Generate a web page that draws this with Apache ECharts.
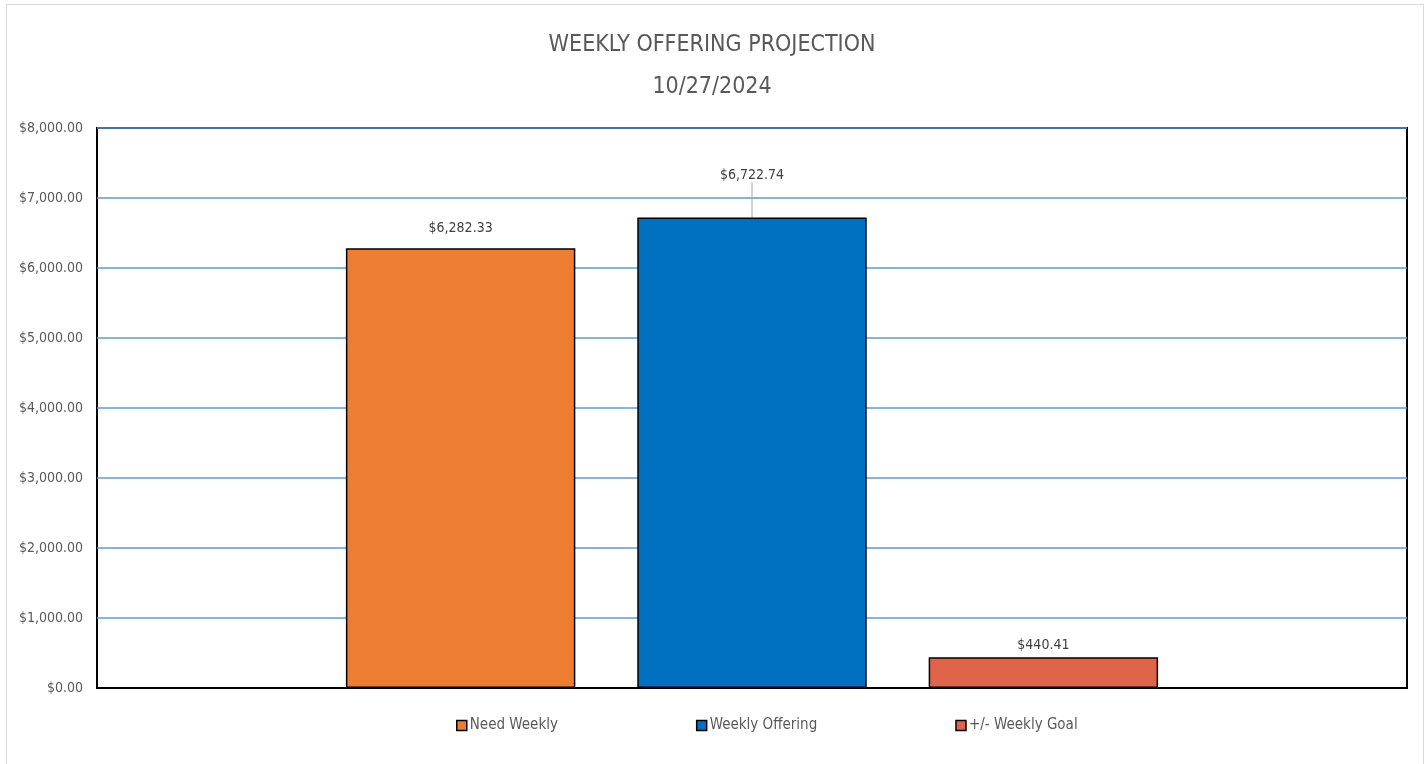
<!DOCTYPE html>
<html>
<head>
<meta charset="utf-8">
<title>Weekly Offering Projection</title>
<script src="https://cdn.jsdelivr.net/npm/echarts@6/dist/echarts.min.js"></script>
<style>
  html, body { margin: 0; padding: 0; background: #fff; }
  .frame { position: absolute; left: 6px; top: 4px; width: 1418px; height: 780px; border: 1px solid #d9d9d9; box-sizing: border-box; }
  #chart { position: absolute; left: 0; top: 0; width: 1424px; height: 764px; }
</style>
</head>
<body>
<div class="frame"></div>
<div id="chart"></div>
<script>
const seriesNames = ['Need Weekly', 'Weekly Offering', '+/- Weekly Goal']
const seriesValues = [6282.33, 6722.74, 440.41]
const seriesColors = ['#ED7D31', '#0070C0', '#DF644A']
const yTicks = [0, 1000, 2000, 3000, 4000, 5000, 6000, 7000, 8000]

const font = '"DejaVu Sans Condensed", "Liberation Sans", sans-serif'
const money = (v) => '$' + v.toLocaleString('en-US', { minimumFractionDigits: 2, maximumFractionDigits: 2 })

const chart = echarts.init(document.getElementById('chart'))

const series = seriesNames.map((name, i) => {
    const s = {
        name,
        type: 'bar',
        data: [seriesValues[i]],
        barGap: '27%',
        barCategoryGap: '38%',
        itemStyle: { color: seriesColors[i], borderColor: '#000', borderWidth: 1.5 },
        label: {
            show: true,
            position: 'top',
            distance: 13,
            formatter: (p) => money(p.value),
            color: '#404040',
            fontFamily: font,
            fontSize: 14,
        },
    }
    if (i === 1) {
        s.labelLayout = { dy: -22 }
        s.labelLine = { show: true, lineStyle: { color: '#a6a6a6', width: 1 } }
    }
    if (i === 2) s.label.distance = 5
    return s
})

const option = {
    animation: false,
    title: {
        text: 'WEEKLY OFFERING PROJECTION\n10/27/2024',
        left: 'center',
        top: 19,
        textStyle: { color: '#595959', fontFamily: font, fontSize: 23, fontWeight: 'normal', lineHeight: 42 },
    },
    legend: {
        bottom: 26,
        left: 451,
        itemWidth: 10,
        itemHeight: 10,
        itemGap: 138,
        icon: 'rect',
        itemStyle: { borderColor: '#000', borderWidth: 1.5 },
        textStyle: { color: '#595959', fontFamily: font, fontSize: 15, padding: [0, 0, 0, -2] },
        data: seriesNames,
    },
    grid: {
        left: 97, right: 17, top: 128, bottom: 76,
        show: true, borderColor: '#000', borderWidth: 2,
    },
    xAxis: {
        type: 'category',
        data: [''],
        axisLine: { show: true, lineStyle: { color: '#000', width: 2 } },
        axisTick: { show: false },
        axisLabel: { show: false },
    },
    yAxis: {
        type: 'value',
        min: yTicks[0],
        max: yTicks[yTicks.length - 1],
        interval: 1000,
        axisLine: { show: false },
        axisTick: { show: false },
        axisLabel: { formatter: money, color: '#595959', fontFamily: font, fontSize: 14, margin: 14 },
        splitLine: { lineStyle: { color: '#5B9BD5', width: 1.5 } },
    },
    series,
}

chart.setOption(option)
</script>
</body>
</html>
